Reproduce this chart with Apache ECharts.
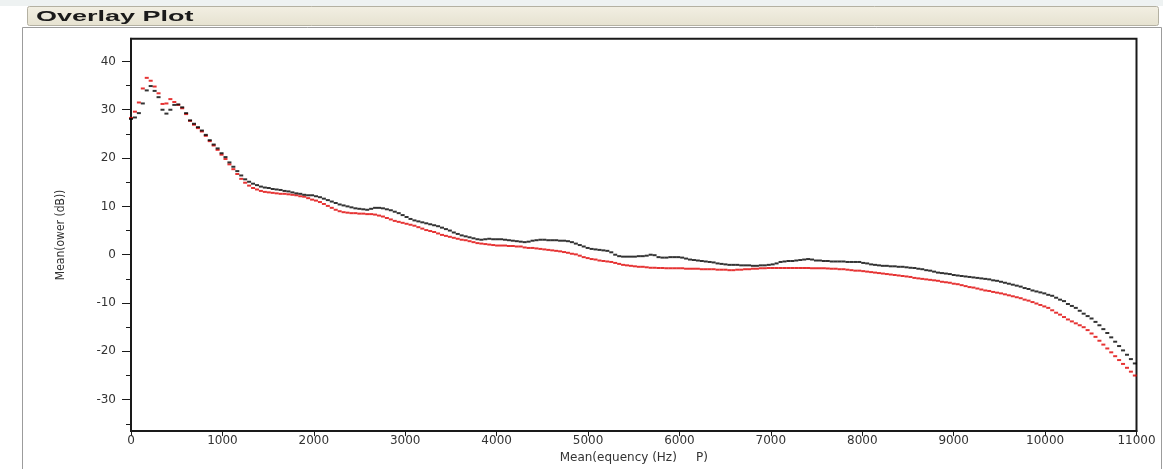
<!DOCTYPE html>
<html><head><meta charset="utf-8">
<script src="https://cdn.jsdelivr.net/npm/echarts@6/dist/echarts.min.js"></script>
<style>html,body{margin:0;padding:0;background:#fff}#c{width:1163px;height:469px}</style>
</head><body><div id="c"></div>
<script>
// Frequency bin width (Hz) of the spectra
const binHz = 11025 / 256;
const titleText = 'Overlay Plot';
const xName = 'Mean(equency (Hz)     P)';
const yName = 'Mean(ower (dB))';
const xTickValues = [0,1000,2000,3000,4000,5000,6000,7000,8000,9000,10000,11000];
const yTickLabels = [-30,-20,-10,0,10,20,30,40];
const yMinorTicks = [-35,-25,-15,-5,5,15,25,35];

// Mean power (dB) per frequency bin, black series
const blackVals = [
28.1,28.4,29.3,31.3,34.0,34.9,33.9,32.6,30.0,29.2,
30.0,31.0,31.1,30.5,29.3,27.8,27.1,26.4,25.7,24.8,
23.7,22.8,22.0,21.0,20.2,19.1,18.2,17.3,16.4,15.6,
15.1,14.7,14.4,14.1,13.9,13.8,13.6,13.5,13.4,13.2,
13.1,12.9,12.7,12.6,12.4,12.3,12.3,12.1,11.9,11.6,
11.3,11.0,10.7,10.4,10.2,10.0,9.8,9.6,9.5,9.4,
9.3,9.5,9.7,9.7,9.6,9.4,9.2,8.9,8.6,8.2,
7.8,7.4,7.1,6.9,6.7,6.5,6.3,6.1,5.9,5.6,
5.3,5.0,4.6,4.3,4.0,3.8,3.6,3.4,3.2,3.1,
3.2,3.3,3.2,3.2,3.2,3.1,3.0,2.9,2.8,2.7,
2.6,2.7,2.9,3.0,3.1,3.1,3.0,3.0,3.0,2.9,
2.9,2.8,2.6,2.3,2.0,1.7,1.4,1.2,1.1,1.0,
0.9,0.8,0.5,0.0,-0.3,-0.4,-0.4,-0.4,-0.4,-0.3,
-0.3,-0.2,0.0,-0.1,-0.5,-0.6,-0.6,-0.5,-0.5,-0.5,
-0.6,-0.8,-1.0,-1.1,-1.2,-1.3,-1.4,-1.5,-1.6,-1.8,
-1.9,-2.0,-2.1,-2.1,-2.1,-2.2,-2.2,-2.2,-2.3,-2.3,
-2.2,-2.2,-2.1,-2.0,-1.8,-1.5,-1.4,-1.3,-1.3,-1.2,
-1.1,-1.0,-0.9,-1.0,-1.2,-1.2,-1.3,-1.3,-1.4,-1.4,
-1.4,-1.4,-1.5,-1.5,-1.5,-1.5,-1.7,-1.8,-2.0,-2.1,
-2.2,-2.3,-2.3,-2.4,-2.4,-2.5,-2.5,-2.6,-2.7,-2.75,
-2.9,-3.0,-3.2,-3.3,-3.5,-3.7,-3.8,-3.9,-4.0,-4.2,
-4.3,-4.4,-4.5,-4.6,-4.7,-4.8,-4.9,-5.0,-5.1,-5.3,
-5.4,-5.6,-5.8,-6.0,-6.2,-6.4,-6.6,-6.9,-7.1,-7.4,
-7.6,-7.8,-8.0,-8.3,-8.5,-8.9,-9.3,-9.6,-10.2,-10.6,
-11.0,-11.6,-12.2,-12.7,-13.2,-13.9,-14.6,-15.4,-16.2,-17.1,
-18.0,-18.9,-19.8,-20.7,-21.6,-22.5
];

// Mean power (dB) per frequency bin, red series
const redVals = [
28.3,29.6,31.5,34.4,36.6,36.0,34.8,33.4,31.2,31.3,
32.2,31.6,31.0,30.3,29.1,27.7,26.9,26.2,25.5,24.6,
23.5,22.6,21.7,20.7,19.8,18.7,17.7,16.7,15.7,14.9,
14.3,13.8,13.5,13.2,13.0,12.9,12.8,12.7,12.6,12.6,
12.5,12.4,12.3,12.1,12.0,11.7,11.4,11.2,10.9,10.5,
10.1,9.7,9.3,9.0,8.8,8.7,8.6,8.6,8.5,8.5,
8.4,8.4,8.3,8.1,7.9,7.6,7.3,7.0,6.8,6.6,
6.4,6.2,6.0,5.7,5.4,5.1,4.9,4.7,4.4,4.1,
3.9,3.7,3.5,3.3,3.1,3.0,2.8,2.6,2.4,2.3,
2.2,2.1,2.0,1.9,1.9,1.9,1.8,1.8,1.7,1.7,
1.5,1.4,1.4,1.3,1.2,1.1,1.0,0.9,0.8,0.7,
0.55,0.4,0.2,0.07,-0.2,-0.5,-0.7,-0.9,-1.0,-1.2,
-1.3,-1.4,-1.5,-1.7,-1.9,-2.1,-2.2,-2.3,-2.4,-2.5,
-2.5,-2.6,-2.7,-2.7,-2.75,-2.75,-2.8,-2.8,-2.8,-2.8,
-2.8,-2.9,-2.9,-2.9,-2.9,-3.0,-3.0,-3.0,-3.0,-3.1,
-3.1,-3.1,-3.2,-3.2,-3.1,-3.1,-3.0,-3.0,-2.9,-2.9,
-2.8,-2.8,-2.75,-2.75,-2.75,-2.75,-2.75,-2.75,-2.75,-2.75,
-2.75,-2.75,-2.75,-2.8,-2.8,-2.8,-2.8,-2.85,-2.9,-2.9,
-3.0,-3.0,-3.1,-3.2,-3.3,-3.3,-3.4,-3.5,-3.6,-3.7,
-3.8,-3.9,-4.0,-4.1,-4.2,-4.3,-4.4,-4.5,-4.6,-4.8,
-4.9,-5.0,-5.1,-5.2,-5.3,-5.4,-5.6,-5.7,-5.8,-6.0,
-6.1,-6.3,-6.5,-6.7,-6.8,-7.0,-7.2,-7.4,-7.5,-7.7,
-7.85,-8.0,-8.2,-8.4,-8.6,-8.8,-9.0,-9.3,-9.5,-9.8,
-10.1,-10.4,-10.7,-11.0,-11.5,-12.0,-12.4,-12.9,-13.4,-13.8,
-14.2,-14.6,-15.0,-15.6,-16.3,-17.0,-17.8,-18.6,-19.4,-20.2,
-21.0,-21.8,-22.6,-23.4,-24.2,-25.0
];

const chart = echarts.init(document.getElementById('c'), null, {renderer: 'canvas'});
const labelFont = 'DejaVu Sans, Liberation Sans, Arial, sans-serif';
const toPairs = vals => vals.map((v, i) => [i * binHz, v]);
const plain = v => String(v);

chart.setOption({
  animation: false,
  backgroundColor: '#ffffff',
  graphic: [
    {type: 'rect', z: -20, shape: {x: 0, y: 0, width: 1163, height: 6}, style: {fill: '#eef2f2'}},
    {type: 'rect', z: -19, shape: {x: 27.5, y: 6.5, width: 1131, height: 19, r: 2},
      style: {fill: new echarts.graphic.LinearGradient(0, 0, 0, 1, [{offset: 0, color: '#f2efe3'}, {offset: 1, color: '#e6e2d0'}]), stroke: '#b4b1a2', lineWidth: 1}},
    {type: 'rect', z: -18, shape: {x: 22.5, y: 27.5, width: 1139, height: 460},
      style: {fill: 'none', stroke: '#9c9c9c', lineWidth: 1}},
    {type: 'text', z: 10, x: 36, y: 16.5, scaleX: 1.8, scaleY: 1, originX: 0, originY: 0,
      style: {text: titleText, font: 'bold 15px "Liberation Sans", Arial, sans-serif', fill: '#1a1a1a', verticalAlign: 'middle'}}
  ],
  grid: {left: 131, right: 26.5, top: 38.7, bottom: 35.5, show: true, borderColor: '#1a1a1a', borderWidth: 2, backgroundColor: 'transparent'},
  xAxis: {
    type: 'value', min: 0, max: 11000, interval: 1000,
    name: xName, nameLocation: 'middle', nameGap: 18,
    nameTextStyle: {fontFamily: labelFont, fontSize: 12, color: '#333'},
    axisLine: {show: true, onZero: false, lineStyle: {color: '#1a1a1a', width: 2}},
    axisTick: {show: true, inside: false, length: 5, lineStyle: {color: '#1a1a1a'}},
    axisLabel: {margin: 4, fontFamily: labelFont, fontSize: 12, color: '#333',
      customValues: xTickValues, formatter: plain},
    splitLine: {show: false}
  },
  yAxis: [{
    type: 'value', min: -36.5, max: 44.7,
    name: yName, nameLocation: 'middle', nameGap: 64, nameRotate: 90,
    nameTextStyle: {fontFamily: '"Liberation Sans Narrow", "DejaVu Sans Condensed", Arial', fontSize: 12, color: '#333'},
    axisLine: {show: true, onZero: false, lineStyle: {color: '#1a1a1a', width: 2}},
    axisTick: {show: true, inside: false, length: 9, customValues: yTickLabels, lineStyle: {color: '#1a1a1a'}},
    axisLabel: {margin: 15, fontFamily: labelFont, fontSize: 12, color: '#333', customValues: yTickLabels, formatter: plain},
    splitLine: {show: false}
  }, {
    type: 'value', min: -36.5, max: 44.7, position: 'left',
    axisLine: {show: false, onZero: false},
    axisTick: {show: true, inside: false, length: 5, customValues: yMinorTicks, lineStyle: {color: '#1a1a1a'}},
    axisLabel: {show: false},
    splitLine: {show: false}
  }],
  series: [
    {type: 'scatter', name: 'red', data: toPairs(redVals), symbol: 'rect', symbolSize: [4, 2],
      itemStyle: {color: '#e00000'}, z: 2, silent: true},
    {type: 'scatter', name: 'black', data: toPairs(blackVals), symbol: 'rect', symbolSize: [4, 2],
      itemStyle: {color: '#000000'}, z: 3, silent: true}
  ]
});
</script>
</body></html>
